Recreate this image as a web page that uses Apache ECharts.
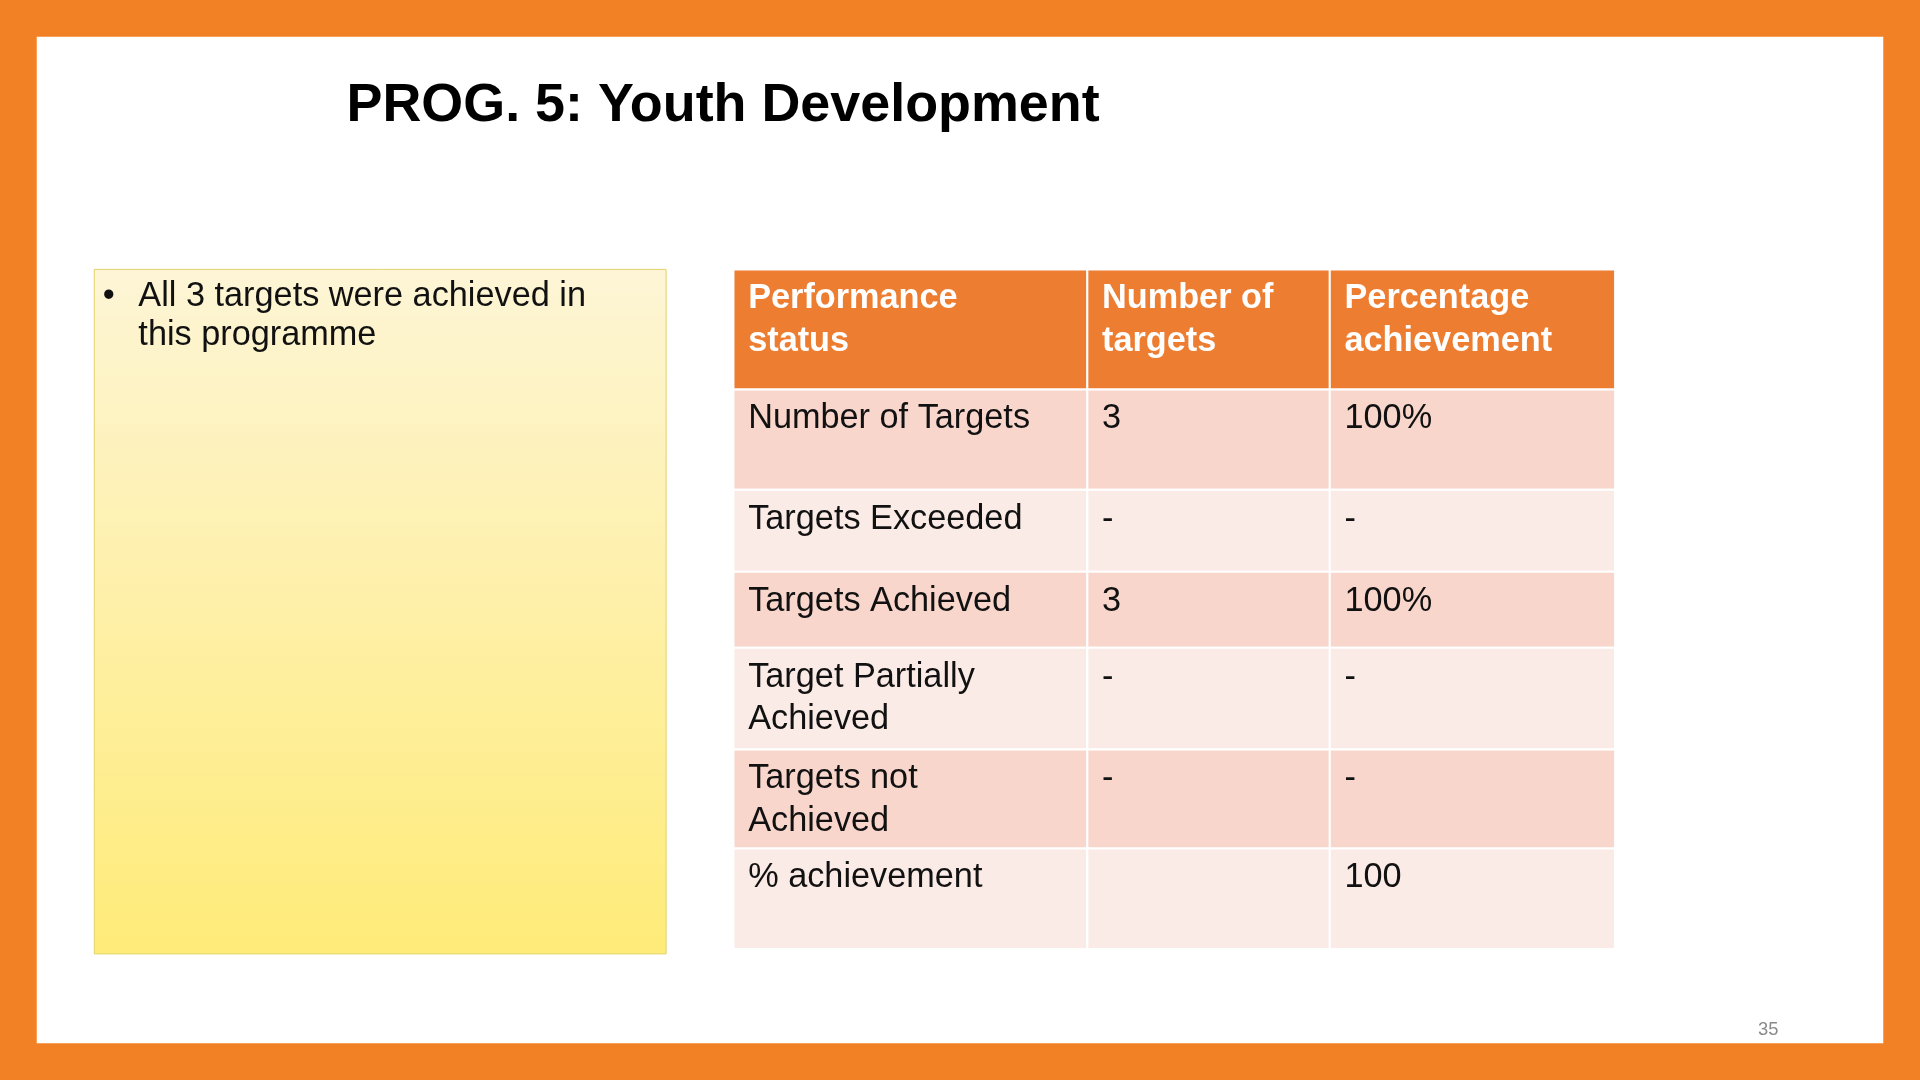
<!DOCTYPE html>
<html><head><meta charset="utf-8">
<script src="https://cdn.jsdelivr.net/npm/echarts@6/dist/echarts.min.js"></script>
<style>html,body{margin:0;padding:0;background:#fff}#c{width:1920px;height:1080px}</style>
</head><body><div id="c"></div>
<script>
const title = "PROG. 5: Youth Development";
const bulletLines = ["All 3 targets were achieved in", "this programme"];
const headers = [["Performance","status"],["Number of","targets"],["Percentage","achievement"]];
const statusLabels = [["Number of Targets"],["Targets Exceeded"],["Targets Achieved"],["Target Partially","Achieved"],["Targets not","Achieved"],["% achievement"]];
const numberOfTargets = ["3","-","3","-","-",""];
const percentAchievement = ["100%","-","100%","-","-","100"];
const pageNumber = "35";

const s = 1920/1568;
const F = '"Liberation Sans", Arial, sans-serif';
const colX = [599, 888, 1086, 1319];
const rowY = [220, 318, 400, 467, 529, 612, 693, 775];
const els = [];
els.push({type:'rect',shape:{x:0,y:0,width:1920,height:1080},style:{fill:'#f28125'}});
els.push({type:'rect',shape:{x:30*s,y:30*s,width:1508*s,height:822*s},style:{fill:'#ffffff'}});
els.push({type:'text',x:283*s,y:87*s,style:{text:title,font:`bold ${44*s}px ${F}`,fill:'#000',textVerticalAlign:'middle'}});
els.push({type:'rect',shape:{x:77*s,y:220*s,width:467*s,height:559*s},
  style:{fill:new echarts.graphic.LinearGradient(0,0,0,1,[{offset:0,color:'#fdf5d6'},{offset:1,color:'#ffeb78'}]),stroke:'#e3d36a',lineWidth:1}});
els.push({type:'text',x:84*s,y:242*s,style:{text:'•',font:`${28*s}px ${F}`,fill:'#111',textVerticalAlign:'middle'}});
bulletLines.forEach((t,i)=>els.push({type:'text',x:113*s,y:(242+32*i)*s,style:{text:t,font:`${28*s}px ${F}`,fill:'#111',textVerticalAlign:'middle'}}));
const cols = [statusLabels.map(a=>a), numberOfTargets.map(v=>[v]), percentAchievement.map(v=>[v])];
for (let r=0;r<rowY.length-1;r++){
  const fill = r===0 ? '#ed7d31' : (r%2===1 ? '#f8d6cc' : '#fbebe7');
  for (let c=0;c<3;c++){
    els.push({type:'rect',shape:{x:colX[c]*s,y:rowY[r]*s,width:(colX[c+1]-colX[c])*s,height:(rowY[r+1]-rowY[r])*s},
      style:{fill:fill,stroke:'#ffffff',lineWidth:2}});
    const lines = r===0 ? headers[c] : cols[c][r-1];
    lines.forEach((t,i)=>els.push({type:'text',x:(colX[c]+12)*s,y:(rowY[r]+24+35*i)*s,
      style:{text:t,font:`${r===0?'bold ':''}${28*s}px ${F}`,fill:r===0?'#ffffff':'#111',textVerticalAlign:'middle'}}));
  }
}
els.push({type:'text',x:1444*s,y:841*s,style:{text:pageNumber,font:`${15*s}px ${F}`,fill:'#8a8a8a',textAlign:'center',textVerticalAlign:'middle'}});
const chart = echarts.init(document.getElementById('c'));
chart.setOption({animation:false,graphic:{elements:els}});
</script></body></html>
